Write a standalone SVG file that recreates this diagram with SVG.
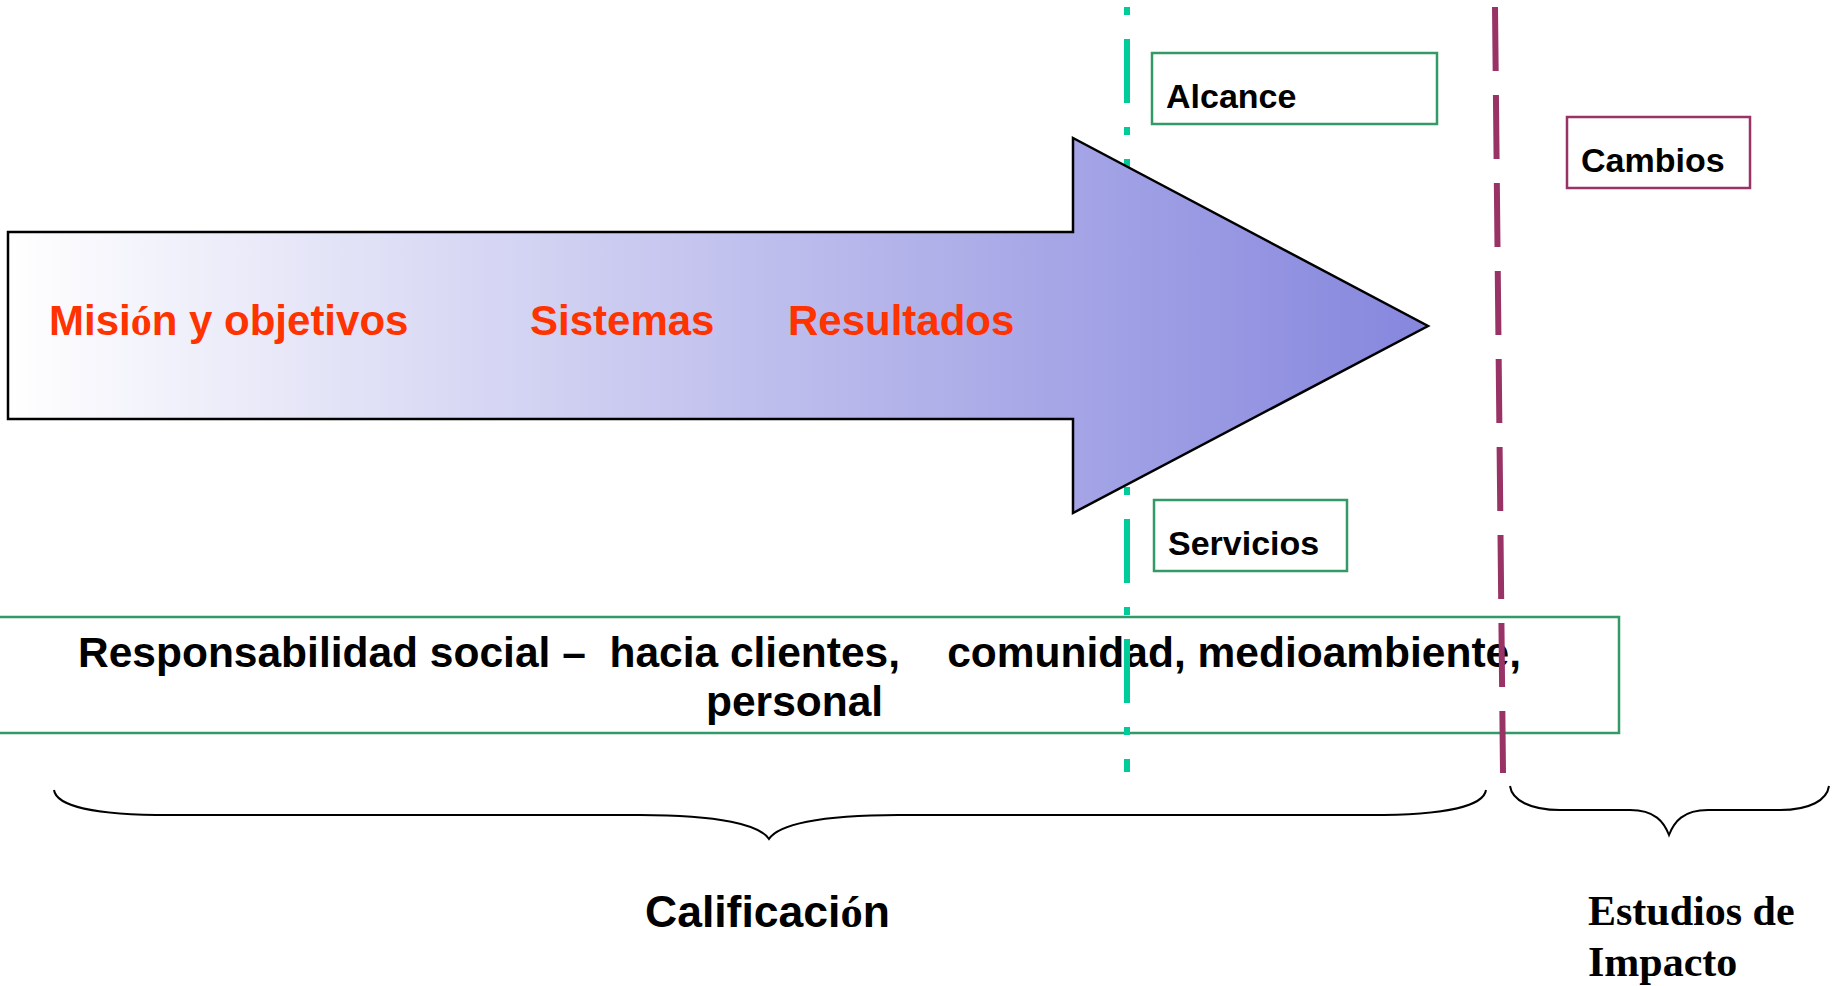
<svg xmlns="http://www.w3.org/2000/svg" width="1835" height="986" viewBox="0 0 1835 986">
<style>
.sans{font-family:"Liberation Sans",Arial,sans-serif;font-weight:bold}
.serif{font-family:"Liberation Serif","Times New Roman",serif;font-weight:bold}
.red{fill:#ff3300;font-size:42px}
.lbl{font-size:34px;fill:#000}
.gbox{fill:#fff;stroke:#339966;stroke-width:2.5}
.pbox{fill:#fff;stroke:#993366;stroke-width:2.5}
.brace{fill:none;stroke:#000;stroke-width:2}
</style>
<defs>
<linearGradient id="ag" gradientUnits="userSpaceOnUse" x1="8" y1="0" x2="1428" y2="0">
<stop offset="0" stop-color="#ffffff"/>
<stop offset="1" stop-color="#8686de"/>
</linearGradient>
</defs>
<rect width="1835" height="986" fill="#fff"/>
<g id="responsabilidad">
<rect x="-3" y="617" width="1622" height="116" class="gbox"/>
<text class="sans" font-size="42.5" fill="#000" xml:space="preserve" style="white-space:pre"><tspan x="78" y="667">Responsabilidad social –  hacia clientes,    comunidad, medioambiente,</tspan><tspan x="706" y="716">personal</tspan></text>
</g>
<g id="connectors">
<line x1="1127" y1="7" x2="1127" y2="772" stroke="#00cc99" stroke-width="6" stroke-dasharray="8 24 64 24"/>
<line x1="1495" y1="7" x2="1503" y2="773" stroke="#993366" stroke-width="6" stroke-dasharray="64 24"/>
</g>
<g id="arrow">
<polygon points="8,232 1073,232 1073,138 1428,326 1073,513 1073,419 8,419" fill="url(#ag)" stroke="#000" stroke-width="2.5"/>
<text class="sans red" x="49" y="335">Misi<tspan class="serif">ó</tspan>n y objetivos</text>
<text class="sans red" x="530" y="335">Sistemas</text>
<text class="sans red" x="788" y="335">Resultados</text>
</g>
<g id="alcance">
<rect x="1152" y="53" width="285" height="71" class="gbox"/>
<text class="sans lbl" x="1166" y="108">Alcance</text>
</g>
<g id="cambios">
<rect x="1567" y="117" width="183" height="71" class="pbox"/>
<text class="sans lbl" x="1581" y="172">Cambios</text>
</g>
<g id="servicios">
<rect x="1154" y="500" width="193" height="71" class="gbox"/>
<text class="sans lbl" x="1168" y="555">Servicios</text>
</g>
<g id="calificacion">
<path class="brace" d="M54,790 C56,805 90,815 170,815 L640,815 C720,815 760,825 769,839 C778,825 818,815 898,815 L1370,815 C1450,815 1484,805 1486,790"/>
<text class="sans" font-size="44.5" fill="#000" x="645" y="927">Calificaci<tspan class="serif">ó</tspan>n</text>
</g>
<g id="estudios">
<path class="brace" d="M1510,786 C1512,800 1530,810 1560,810 L1630,810 C1655,810 1664,822 1669,835 C1674,822 1683,810 1708,810 L1780,810 C1810,810 1827,800 1829,786"/>
<text class="serif" font-size="42" fill="#000"><tspan x="1588" y="925">Estudios de</tspan><tspan x="1588" y="976">Impacto</tspan></text>
</g>
</svg>
